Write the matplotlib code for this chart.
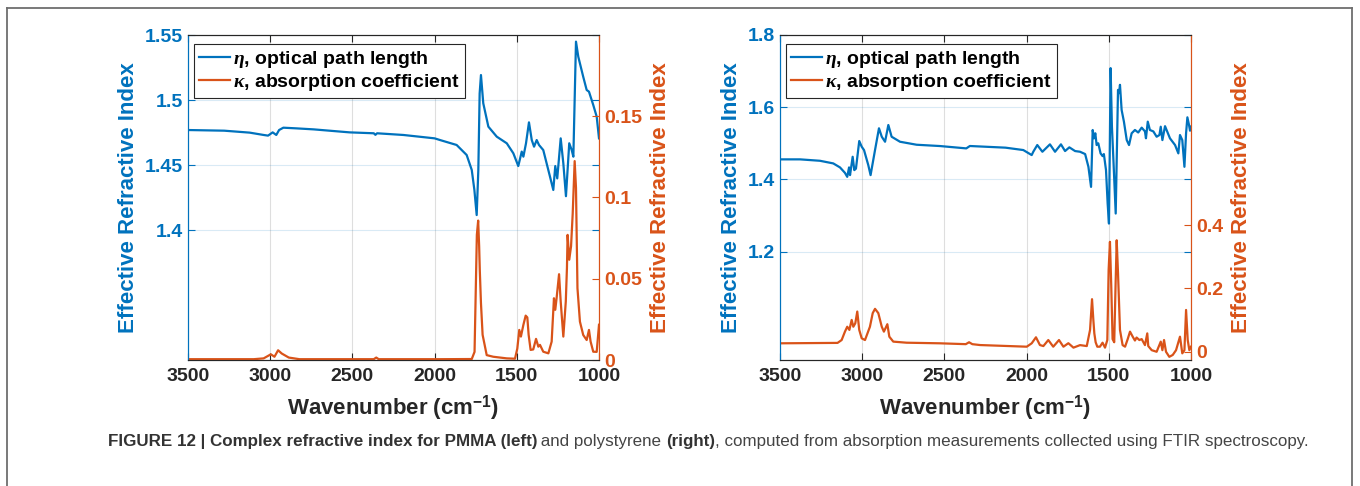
import matplotlib
matplotlib.use("Agg")
import matplotlib.pyplot as plt
from matplotlib import font_manager
from matplotlib.lines import Line2D

# ---------------------------------------------------------------------------
# data (wavenumber in cm^-1)
# ---------------------------------------------------------------------------

pmma_eta_wn = [3500, 3280, 3125, 3040, 3013, 2985, 2963, 2946, 2920, 2843, 2735, 2517,
               2370, 2360, 2350, 2190, 2000, 1967, 1866, 1805, 1774, 1758, 1744, 1734,
               1726, 1718, 1704, 1673, 1622, 1561, 1521, 1491, 1470, 1460, 1444, 1426,
               1409, 1395, 1379, 1365, 1339, 1298, 1278, 1266, 1254, 1233, 1217, 1201,
               1181, 1166, 1156, 1140, 1126, 1096, 1075, 1061, 1035, 1014, 1000]
pmma_eta = [1.4769, 1.4764, 1.4749, 1.4731, 1.4726, 1.4751, 1.4731, 1.4769, 1.4787,
            1.4782, 1.4774, 1.4751, 1.4744, 1.4732, 1.4744, 1.4731, 1.4705, 1.4692,
            1.4654, 1.4577, 1.4462, 1.4308, 1.4115, 1.4462, 1.5050, 1.5192, 1.4975,
            1.4795, 1.4718, 1.4667, 1.4590, 1.4492, 1.4603, 1.4564, 1.4667, 1.4828,
            1.4692, 1.4641, 1.4692, 1.4654, 1.4615, 1.4410, 1.4308, 1.4492, 1.4397,
            1.4705, 1.4513, 1.4260, 1.4667, 1.4615, 1.4564, 1.5449, 1.5333, 1.5179,
            1.5077, 1.5064, 1.4962, 1.4872, 1.4705]

pmma_kap_wn = [3500, 3100, 3040, 2996, 2974, 2952, 2930, 2887, 2822, 2370, 2355, 2340,
               1967, 1774, 1757, 1743, 1735, 1729, 1725, 1718, 1708, 1683, 1643, 1561,
               1511, 1497, 1485, 1475, 1460, 1446, 1436, 1428, 1416, 1400, 1383, 1369,
               1359, 1339, 1308, 1288, 1274, 1266, 1258, 1243, 1233, 1217, 1202, 1195,
               1191, 1181, 1170, 1160, 1148, 1140, 1131, 1116, 1096, 1075, 1061, 1051,
               1035, 1014, 1000]
pmma_kap = [0.0005, 0.0005, 0.0010, 0.0035, 0.0020, 0.0060, 0.0040, 0.0015, 0.0005,
            0.0005, 0.0015, 0.0005, 0.0005, 0.0006, 0.0050, 0.0770, 0.0858, 0.0700,
            0.0550, 0.0350, 0.0155, 0.0030, 0.0020, 0.0010, 0.0008, 0.0070, 0.0185,
            0.0144, 0.0216, 0.0273, 0.0262, 0.0155, 0.0062, 0.0065, 0.0130, 0.0082,
            0.0093, 0.0051, 0.0041, 0.0113, 0.0380, 0.0309, 0.0380, 0.0528, 0.0360,
            0.0144, 0.0360, 0.0566, 0.0770, 0.0617, 0.0700, 0.0900, 0.1224, 0.1060,
            0.0442, 0.0236, 0.0154, 0.0123, 0.0185, 0.0113, 0.0051, 0.0050, 0.0217]

ps_eta_wn = [3500, 3378, 3257, 3176, 3135, 3105, 3091, 3080, 3074, 3058, 3048, 3038,
             3018, 3003, 2989, 2963, 2949, 2922, 2898, 2881, 2861, 2841, 2821, 2770,
             2669, 2527, 2367, 2345, 2128, 2020, 1969, 1959, 1935, 1904, 1858, 1827,
             1791, 1766, 1740, 1705, 1675, 1644, 1624, 1608, 1598, 1590, 1582, 1574,
             1564, 1550, 1538, 1530, 1517, 1507, 1499, 1495, 1489, 1481, 1471, 1458,
             1450, 1444, 1438, 1432, 1422, 1408, 1391, 1377, 1361, 1341, 1321, 1300,
             1280, 1274, 1263, 1250, 1229, 1209, 1192, 1184, 1174, 1158, 1128, 1097,
             1077, 1067, 1053, 1040, 1030, 1022, 1012, 1006, 1000]
ps_eta = [1.4556, 1.4556, 1.4517, 1.4444, 1.4333, 1.4183, 1.4072, 1.4333, 1.4120,
          1.4628, 1.4258, 1.4300, 1.5064, 1.4906, 1.4814, 1.4397, 1.4120, 1.4814,
          1.5417, 1.5183, 1.5044, 1.5508, 1.5183, 1.5044, 1.4961, 1.4925, 1.4860,
          1.4926, 1.4880, 1.4814, 1.4675, 1.4770, 1.4953, 1.4767, 1.4972, 1.4767,
          1.4972, 1.4786, 1.4889, 1.4786, 1.4767, 1.4703, 1.4350, 1.3794, 1.5369,
          1.5139, 1.5278, 1.4953, 1.5000, 1.4722, 1.4647, 1.4703, 1.4258, 1.3333,
          1.2778, 1.4400, 1.7083, 1.5461, 1.4444, 1.3056, 1.5000, 1.6480, 1.6389,
          1.6620, 1.5925, 1.5600, 1.5092, 1.4953, 1.5278, 1.5370, 1.5300, 1.5435,
          1.5330, 1.5140, 1.5600, 1.5370, 1.5330, 1.5183, 1.5230, 1.5460, 1.5090,
          1.5475, 1.5139, 1.4953, 1.4722, 1.5230, 1.5090, 1.4350, 1.5278, 1.5720,
          1.5508, 1.5350, 1.5460]

ps_kap_wn = [3500, 3150, 3125, 3105, 3091, 3078, 3064, 3054, 3042, 3030, 3018, 3003,
             2983, 2953, 2936, 2922, 2902, 2881, 2868, 2847, 2835, 2811, 2730, 2527,
             2370, 2350, 2330, 2283, 1999, 1969, 1943, 1919, 1898, 1868, 1838, 1803,
             1776, 1746, 1715, 1675, 1634, 1614, 1602, 1594, 1588, 1580, 1570, 1554,
             1538, 1523, 1509, 1501, 1493, 1485, 1477, 1467, 1459, 1452, 1444, 1432,
             1416, 1401, 1385, 1371, 1355, 1341, 1331, 1314, 1300, 1280, 1266, 1260,
             1239, 1209, 1184, 1174, 1164, 1152, 1132, 1111, 1091, 1067, 1053, 1040,
             1030, 1020, 1010, 1000]
ps_kap = [0.0267, 0.0280, 0.0370, 0.0635, 0.0790, 0.0690, 0.1006, 0.0790, 0.0900,
          0.1270, 0.0690, 0.0425, 0.0370, 0.0790, 0.1220, 0.1355, 0.1220, 0.0790,
          0.0635, 0.0870, 0.0476, 0.0320, 0.0286, 0.0267, 0.0240, 0.0300, 0.0240,
          0.0212, 0.0160, 0.0267, 0.0457, 0.0212, 0.0180, 0.0370, 0.0160, 0.0370,
          0.0160, 0.0270, 0.0130, 0.0210, 0.0180, 0.0690, 0.1660, 0.1006, 0.0580,
          0.0300, 0.0160, 0.0160, 0.0286, 0.0130, 0.0370, 0.2590, 0.3470, 0.2060,
          0.0400, 0.0300, 0.2060, 0.3520, 0.2490, 0.0690, 0.0210, 0.0160, 0.0400,
          0.0635, 0.0480, 0.0355, 0.0450, 0.0370, 0.0400, 0.0210, 0.0580, 0.0180,
          0.0050, 0.0000, 0.0320, 0.0050, 0.0370, 0.0000, -0.0160, -0.0100, 0.0050,
          0.0476, -0.0050, 0.0050, 0.1320, 0.0370, 0.0050, 0.0160]

x_ticks = [3500, 3000, 2500, 2000, 1500, 1000]
pmma_eta_ticks = [1.4, 1.45, 1.5, 1.55]
pmma_kap_ticks = [0, 0.05, 0.1, 0.15]
ps_eta_ticks = [1.2, 1.4, 1.6, 1.8]
ps_kap_ticks = [0, 0.2, 0.4]

legend_labels = [r"$\eta$, optical path length", r"$\kappa$, absorption coefficient"]
y_label = "Effective Refractive Index"
x_label = r"Wavenumber (cm$^{\mathbf{-1}}$)"
caption = [
    ("FIGURE 12 | Complex refractive index for PMMA (left)", "bold"),
    (" and polystyrene ", "normal"),
    ("(right)", "bold"),
    (", computed from absorption measurements collected using FTIR spectroscopy.", "normal"),
]

# ---------------------------------------------------------------------------
# style
# ---------------------------------------------------------------------------

BLUE = "#0072BD"
ORANGE = "#D95319"
DARK = "#262626"
W, H = 1360, 486

plt.rcParams.update({
    "font.family": ["Liberation Sans", "DejaVu Sans"],
    "font.weight": "bold",
    "axes.labelweight": "bold",
    "mathtext.fontset": "custom",
    "mathtext.rm": "Liberation Sans:bold",
    "mathtext.bf": "Liberation Sans:bold",
    "mathtext.it": "Liberation Serif:italic",
})


def fmt(v):
    return f"{v:g}"


def panel(fig, left_px, eta_wn, eta, kap_wn, kap, eta_lim, eta_ticks, kap_lim, kap_ticks):
    rect = [left_px / W, (H - 360) / H, 411 / W, 325 / H]
    ax = fig.add_axes(rect)
    ax2 = ax.twinx()

    l1, = ax.plot(eta_wn, eta, color=BLUE, lw=1.6)
    l2, = ax2.plot(kap_wn, kap, color=ORANGE, lw=1.6)

    ax.set_xlim(3500, 1000)
    ax.set_xticks(x_ticks)
    ax.set_xticklabels([str(t) for t in x_ticks])
    ax.set_ylim(*eta_lim)
    ax.set_yticks(eta_ticks)
    ax.set_yticklabels([fmt(t) for t in eta_ticks])
    ax2.set_ylim(*kap_lim)
    ax2.set_yticks(kap_ticks)
    ax2.set_yticklabels([fmt(t) for t in kap_ticks])

    ax.grid(axis="x", color=DARK, alpha=0.15, lw=0.8)
    ax.grid(axis="y", color=BLUE, alpha=0.15, lw=0.8)

    ax.tick_params(axis="x", direction="in", top=True, length=5, width=0.8,
                   colors=DARK, labelsize=14, pad=6)
    ax.tick_params(axis="y", direction="in", right=True, labelright=False,
                   length=5, width=0.8, colors=BLUE, labelsize=14)
    ax2.tick_params(axis="y", direction="in", length=5, width=0.8,
                    colors=ORANGE, labelsize=14)

    for a in (ax, ax2):
        a.spines["top"].set_color(DARK)
        a.spines["bottom"].set_color(DARK)
        a.spines["left"].set_color(BLUE)
        a.spines["right"].set_color(ORANGE)
        for s in a.spines.values():
            s.set_linewidth(0.8)

    ax.set_xlabel(x_label, fontsize=16, color=DARK, labelpad=6)
    ax.set_ylabel(y_label, fontsize=16, color=BLUE, labelpad=4)
    ax2.set_ylabel(y_label, fontsize=16, color=ORANGE, labelpad=6)

    leg = ax2.legend([l1, l2], legend_labels, loc="upper left",
                     bbox_to_anchor=(0.015, 0.972), borderaxespad=0,
                     fancybox=False, framealpha=1, edgecolor=DARK,
                     prop={"size": 14, "weight": "bold"}, handlelength=1.6,
                     handletextpad=0.15, borderpad=0.25, labelspacing=0.1)
    leg.get_frame().set_linewidth(0.8)
    return ax, ax2


fig = plt.figure(figsize=(W / 100, H / 100), dpi=100)

panel(fig, 188, pmma_eta_wn, pmma_eta, pmma_kap_wn, pmma_kap,
      (1.30, 1.55), pmma_eta_ticks, (0, 0.2), pmma_kap_ticks)
panel(fig, 780, ps_eta_wn, ps_eta, ps_kap_wn, ps_kap,
      (0.9, 1.8), ps_eta_ticks, (-0.026, 1.0), ps_kap_ticks)

# outer frame (open at the bottom)
frame_kw = dict(color="#6e6e6e", lw=1.3, transform=fig.transFigure)
x0, x1, y0 = 7 / W, 1352 / W, 1 - 8 / H
fig.add_artist(Line2D([x0, x0], [0, y0], **frame_kw))
fig.add_artist(Line2D([x0, x1], [y0, y0], **frame_kw))
fig.add_artist(Line2D([x1, x1], [y0, 0], **frame_kw))

# caption, pieces of bold / regular text fitted to the printed width
names = {f.name for f in font_manager.fontManager.ttflist}
cap_font = "Liberation Sans Narrow" if "Liberation Sans Narrow" in names else "Liberation Sans"
fig.canvas.draw()
renderer = fig.canvas.get_renderer()
base = 10
widths = []
for txt, wt in caption:
    t = fig.text(0, 0, txt, fontsize=base, fontweight=wt, family=cap_font)
    widths.append(t.get_window_extent(renderer).width)
    t.remove()
fs = base * 1199 / sum(widths)
x = 108
for (txt, wt), w in zip(caption, widths):
    fig.text(x / W, 1 - 441 / H, txt, fontsize=fs, fontweight=wt, family=cap_font,
             color="#333333" if wt == "bold" else "#444444", va="center")
    x += w * fs / base

fig.savefig("out.png", dpi=100)
